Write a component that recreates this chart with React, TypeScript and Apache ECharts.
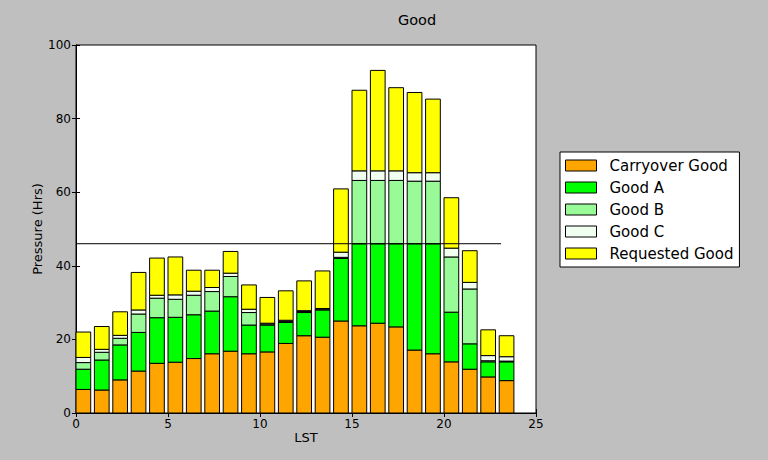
import React, { useEffect, useRef } from "react";
import * as echarts from "echarts";

const hours = [0,1,2,3,4,5,6,7,8,9,10,11,12,13,14,15,16,17,18,19,20,21,22,23];
const seriesNames = ["Carryover Good", "Good A", "Good B", "Good C", "Requested Good"];
const carryover = [6.4,6.25,9.0,11.4,13.5,13.8,14.8,16.1,16.8,16.1,16.6,18.9,21.0,20.6,25.0,23.7,24.4,23.4,17.1,16.1,13.9,11.9,9.8,8.8];
const goodA = [5.5,8.15,9.5,10.5,12.4,12.2,11.9,11.6,14.8,7.8,7.3,5.7,6.3,7.4,17.0,22.3,21.6,22.6,28.9,29.9,13.5,6.9,4.1,5.1];
const goodB = [1.8,2.1,1.8,5.0,5.3,4.9,5.3,5.3,5.5,3.4,0.3,0.3,0.3,0.2,0.3,17.2,17.2,17.2,17.0,17.0,15.0,14.9,0.3,0.2];
const goodC = [1.4,0.8,0.8,1.1,0.8,1.2,1.1,1.1,0.9,0.9,0.2,0.3,0.2,0.2,1.4,2.6,2.6,2.6,2.3,2.3,2.4,1.8,1.4,1.2];
const requested = [6.9,6.2,6.4,10.2,10.1,10.3,5.7,4.7,5.9,6.6,7.0,8.0,8.1,10.2,17.2,21.9,27.3,22.6,21.8,20.0,13.7,8.6,7.0,5.7];
const colors = ["#FFA500", "#00FF00", "#98FB98", "#F0FFF0", "#FFFF00"];
const capacity = 46;
const lineEnd = 23.1;
const barWidthUnits = 0.8;

export default function App() {
  const ref = useRef<HTMLDivElement>(null);
  useEffect(() => {
    const chart = echarts.init(ref.current!, null, { renderer: "svg" });
    const font = "DejaVu Sans";
    const values = [carryover, goodA, goodB, goodC, requested];
    const bases = hours.map(() => 0);
    const barSeries = seriesNames.map((name, k) => {
      const data = hours.map((h, i) => {
        const b = bases[i];
        const t = b + values[k][i];
        bases[i] = t;
        return [h, b, t];
      });
      return {
        name,
        type: "custom",
        xAxisIndex: 0,
        yAxisIndex: 0,
        itemStyle: { color: colors[k], borderColor: "#000", borderWidth: 1 },
        encode: { x: 0, y: [1, 2] },
        renderItem: (params: any, api: any) => {
          const h = api.value(0);
          const p0 = api.coord([h, api.value(2)]);
          const p1 = api.coord([h + barWidthUnits, api.value(1)]);
          return {
            type: "rect",
            shape: { x: p0[0], y: p0[1], width: p1[0] - p0[0], height: p1[1] - p0[1] },
            style: { fill: colors[k], stroke: "#000", lineWidth: 1 },
          };
        },
        data,
      };
    });
    const baseAxis = {
      type: "value",
      axisLine: { show: true, lineStyle: { color: "#000", width: 1 } },
      axisTick: { show: true, inside: true, length: 4, lineStyle: { color: "#000" } },
      splitLine: { show: false },
    };
    chart.setOption({
      animation: false,
      backgroundColor: "#BFBFBF",
      title: {
        text: "Good",
        left: 412,
        top: 7,
        textAlign: "center",
        textStyle: { fontFamily: font, fontSize: 14.5, fontWeight: "normal", color: "#000" },
      },
      legend: {
        orient: "vertical",
        left: 560,
        top: 152,
        backgroundColor: "#fff",
        borderColor: "#000",
        borderWidth: 1,
        borderRadius: 0,
        padding: [6, 6, 6, 5],
        itemWidth: 31,
        itemHeight: 11,
        itemGap: 7,
        icon: "rect",
        itemStyle: { borderColor: "#000", borderWidth: 1 },
        textStyle: { fontFamily: font, fontSize: 15, lineHeight: 15, color: "#000", padding: [0, 0, 0, 8] },
        data: seriesNames,
      },
      grid: { left: 76, top: 45, right: 232, bottom: 47, backgroundColor: "#fff", show: true, borderColor: "#000", borderWidth: 1 },
      xAxis: [
        {
          ...baseAxis,
          min: 0,
          max: 25,
          interval: 5,
          name: "LST",
          nameLocation: "middle",
          nameGap: 18,
          nameMoveOverlap: false,
          nameTextStyle: { fontFamily: font, fontSize: 13, color: "#000" },
          axisLabel: { fontFamily: font, fontSize: 12, color: "#000", margin: 5 },
        },
        {
          ...baseAxis,
          position: "top",
          min: 0,
          max: 25,
          interval: 5,
          axisLabel: { show: false },
        },
      ],
      yAxis: [
        {
          ...baseAxis,
          min: 0,
          max: 100,
          interval: 20,
          name: "Pressure (Hrs)",
          nameLocation: "middle",
          nameGap: 32,
          nameMoveOverlap: false,
          nameTextStyle: { fontFamily: font, fontSize: 13, color: "#000" },
          axisLabel: { fontFamily: font, fontSize: 12, color: "#000", margin: 5 },
        },
        {
          ...baseAxis,
          position: "right",
          min: 0,
          max: 100,
          interval: 20,
          axisLabel: { show: false },
        },
      ],
      series: [
        ...barSeries,
        {
          type: "line",
          name: "capacity",
          xAxisIndex: 0,
          yAxisIndex: 0,
          symbol: "none",
          lineStyle: { color: "#000", width: 1 },
          data: [[0, capacity], [lineEnd, capacity]],
          z: 5,
        },
      ],
    });
    return () => chart.dispose();
  }, []);
  return <div ref={ref} style={{ width: 768, height: 460, position: "absolute", left: 0, top: 0 }} />;
}
